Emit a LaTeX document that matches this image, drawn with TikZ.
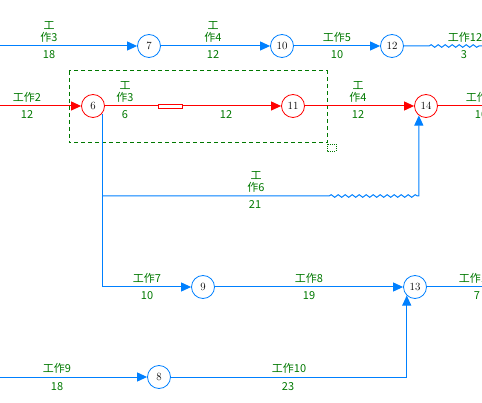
\documentclass[tikz,border=0pt]{standalone}
\usepackage{fontspec}
\newfontfamily\cjk{Noto Sans CJK SC}
\usetikzlibrary{arrows.meta,decorations.pathmorphing}
\definecolor{nwblue}{RGB}{0,128,255}
\definecolor{nwred}{RGB}{255,0,0}
\definecolor{nwgreen}{RGB}{0,120,0}
\tikzset{
  nwevent/.style={circle, draw=nwblue, fill=white, minimum size=23pt,
                  inner sep=0pt, line width=0.8pt,
                  font=\fontsize{11}{12}\selectfont},
  nwcrit/.style={nwevent, draw=nwred},
  nwplain/.style={draw=nwblue, line width=1pt},
  nwlink/.style={nwplain, -{Triangle[length=10pt,width=9pt]}},
  nwcritlink/.style={nwlink, draw=nwred},
  nwwave/.style={decoration={snake, amplitude=1.3pt, segment length=7pt}},
  nwname/.style={anchor=base, text=nwgreen, inner sep=0pt, align=center,
                 font=\cjk\fontsize{11}{12.5}\selectfont},
  nwdur/.style={nwname},
  nwbox/.style={rectangle, draw=nwred, fill=white, line width=0.8pt,
                minimum width=24pt, minimum height=4pt, inner sep=0pt},
  nwframe/.style={draw=nwgreen, line width=1pt, dash pattern=on 4pt off 3pt},
  nwhandle/.style={draw=nwgreen, line width=0.8pt, dash pattern=on 1pt off 1pt}
}
\begin{document}
\begin{tikzpicture}[x=1pt, y=-1pt]
  \useasboundingbox (0,0) rectangle (482,403);
  \clip (0,0) rectangle (482,403);
  % selection frame round 6 -> 11
  \draw[nwframe] (69,71) rectangle (327,143);
  \draw[nwhandle] (327,144) rectangle (336,151);
  \node[nwevent] (n7)  at (149,46)  {7};
  \node[nwevent] (n10) at (282,46)  {10};
  \node[nwevent] (n12) at (392,46)  {12};
  \node[nwcrit]  (n6)  at (93,106)  {6};
  \node[nwcrit]  (n11) at (293,106) {11};
  \node[nwcrit]  (n14) at (426,106) {14};
  \node[nwevent] (n9)  at (203,287) {9};
  \node[nwevent] (n13) at (415,287) {13};
  \node[nwevent] (n8)  at (159,377) {8};
  \coordinate (w1) at (0,46);
  \coordinate (e1) at (482,46);
  \coordinate (z12) at (429,46);
  \coordinate (w2) at (0,106);
  \coordinate (e2) at (482,106);
  \coordinate (f6) at (102,196);
  \coordinate (z6) at (329,196);
  \coordinate (e4) at (482,287);
  \coordinate (w5) at (0,377);
  % top chain
  \draw[nwlink] (w1) -- (n7);
  \draw[nwlink] (n7) -- (n10);
  \draw[nwlink] (n10) -- (n12);
  \draw[nwplain] (n12) -- (z12) decorate[nwwave] {-- (e1)};
  % critical chain
  \draw[nwcritlink] (w2) -- (n6);
  \draw[nwcritlink] (n6) -- node[nwbox, pos=0.37] (b611) {} (n11);
  \draw[nwcritlink] (n11) -- (n14);
  \draw[nwplain, draw=nwred] (n14) -- (e2);
  % branches out of 6
  \draw[nwlink] (n6.-40) |- (n9);
  \draw[nwlink] (f6) -- (z6) decorate[nwwave] {-- (n14.-127 |- f6)}
    -- (n14.-127);
  \draw[nwlink] (n9) -- (n13);
  \draw[nwplain] (n13) -- (e4);
  \draw[nwlink] (w5) -- (n8);
  \draw[nwlink] (n8) -- (n13.-134 |- n8) -- (n13.-134);
  % names and durations
  \node[nwname] (a3)  at (49,42)   {工\\作3};
  \node[nwdur]  (d3)  at (49,59)   {18};
  \node[nwname] (a4)  at (213,42)  {工\\作4};
  \node[nwdur]  (d4)  at (213,59)  {12};
  \node[nwname] (a5)  at (337,42)  {工作5};
  \node[nwdur]  (d5)  at (337,59)  {10};
  \node[nwname] (a12) at (465,42)  {工作12};
  \node[nwdur]  (d12) at (464,59)  {3};
  \node[nwname] (a2)  at (27,102)  {工作2};
  \node[nwdur]  (d2)  at (27,119)  {12};
  \node[nwname] (b3)  at (125,102) {工\\作3};
  \node[nwdur]  (e3)  at (125,119) {6};
  \node[nwdur]  (d611) at (226,119) {12};
  \node[nwname] (b4)  at (358,102) {工\\作4};
  \node[nwdur]  (e4d) at (358,119) {12};
  \node[nwname] (a13) at (483,102) {工作13};
  \node[nwdur]  (d13) at (481,119) {10};
  \node[nwname] (a6)  at (256,192) {工\\作6};
  \node[nwdur]  (d6)  at (255,209) {21};
  \node[nwname] (a7)  at (147,283) {工作7};
  \node[nwdur]  (d7)  at (147,300) {10};
  \node[nwname] (a8)  at (309,283) {工作8};
  \node[nwdur]  (d8)  at (309,300) {19};
  \node[nwname] (a11) at (476,283) {工作11};
  \node[nwdur]  (d11) at (477,300) {7};
  \node[nwname] (a9)  at (57,373)  {工作9};
  \node[nwdur]  (d9)  at (57,390)  {18};
  \node[nwname] (a10) at (289,373) {工作10};
  \node[nwdur]  (d10) at (288,390) {23};
\end{tikzpicture}
\end{document}
